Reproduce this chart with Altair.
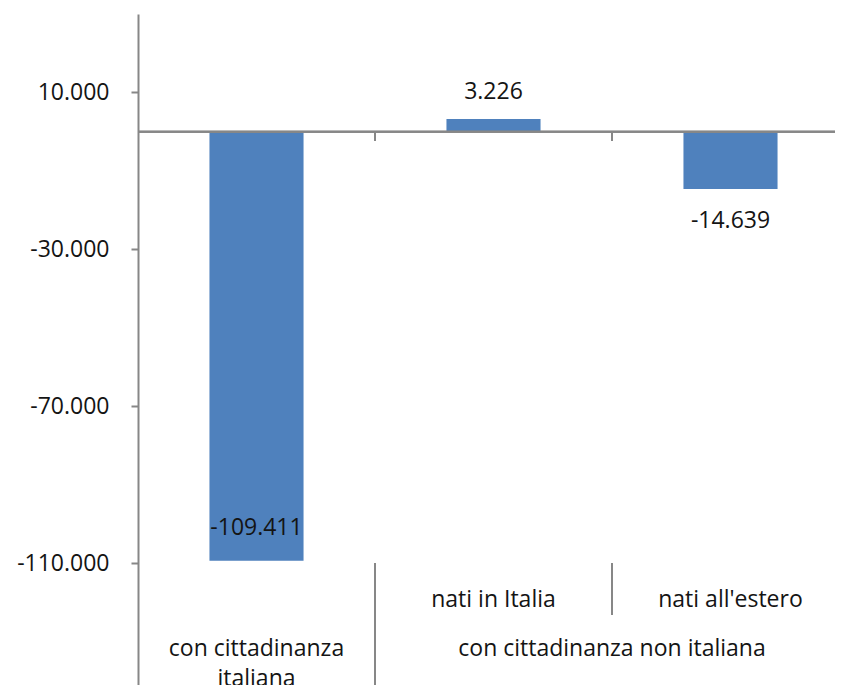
import altair as alt
import pandas as pd

# ---- data -----------------------------------------------------------------
categories = ["con cittadinanza italiana", "nati in Italia", "nati all'estero"]
values = [-109411, 3226, -14639]
level1_labels = ["", "nati in Italia", "nati all'estero"]
group_labels = ["con cittadinanza\nitaliana", "con cittadinanza non italiana"]
group_spans = [1, 2]
y_ticks = [10000, -30000, -70000, -110000]


def it_fmt(v):
    return f"{v:,}".replace(",", ".")


n = len(categories)
bars_df = pd.DataFrame({"cat": categories, "value": values,
                        "label": [it_fmt(v) for v in values],
                        "lvl1": level1_labels})

# group label anchors (center of each group in category units)
ends = list(pd.Series(group_spans).cumsum())
starts = [int(e - s) for e, s in zip(ends, group_spans)]
centers = [(s + e) / 2 for s, e in zip(starts, ends)]
group_df = pd.DataFrame({
    "anchor": [categories[min(int(c), n - 1)] for c in centers],
    "frac": [c - int(c) for c in centers],
    "text": group_labels,
})
group_bounds = [int(e) for e in ends[:-1]]
bound_df = pd.DataFrame({
    "cat": [categories[b] for b in range(1, n)],
    "kind": ["group" if b in group_bounds else "inner" for b in range(1, n)],
})

# ---- layout / style ---------------------------------------------------------
PLOT_W = 697          # visible plot width (page is 843 wide)
BAND_RANGE = 711      # the category axis runs on past the right edge
PLOT_H = 671
Y_DOMAIN = [-141100, 30000]
VALUE_MIN = y_ticks[-1]
FONT = "Open Sans"
FS = 23
AXIS_C = "#878787"
TXT_C = "#141414"
BAR_C = "#4F81BD"

yscale = alt.Scale(domain=Y_DOMAIN, nice=False, zero=False)
xscale = alt.Scale(domain=categories, range=[0, BAND_RANGE],
                   paddingInner=0, paddingOuter=0)


def xpos(field, band=0.5):
    return alt.X(f"{field}:N", sort=categories, scale=xscale, axis=None,
                 bandPosition=band)


y_axis = alt.Axis(values=y_ticks, title=None, grid=False,
                  labelExpr="replace(replace(datum.label, ',', '.'), '\u2212', '-')",
                  labelFont=FONT, labelFontSize=FS, labelColor=TXT_C,
                  labelPadding=22, tickSize=7, tickWidth=2, tickColor=AXIS_C,
                  domainColor=AXIS_C, domainWidth=2)

bars = alt.Chart(bars_df).mark_bar(
    color=BAR_C, width=alt.RelativeBandSize(0.397)).encode(
    x=alt.X("cat:N", sort=categories, scale=xscale, axis=None),
    y=alt.Y("value:Q", scale=yscale, axis=y_axis),
)

zero_line = alt.Chart(bars_df).mark_rule(color=AXIS_C, strokeWidth=2).encode(
    x=alt.value(0), x2=alt.value(BAND_RANGE), y=alt.datum(0)
)

zero_ticks = alt.Chart(bound_df).mark_rule(color=AXIS_C, strokeWidth=2).encode(
    x=xpos("cat", 0), y=alt.datum(0), y2=alt.datum(-2400)
)

full_div = alt.Chart(bound_df).transform_filter("datum.kind == 'group'").mark_rule(
    color=AXIS_C, strokeWidth=2).encode(
    x=xpos("cat", 0), y=alt.datum(VALUE_MIN), y2=alt.value(PLOT_H)
)
short_div = alt.Chart(bound_df).transform_filter("datum.kind == 'inner'").mark_rule(
    color=AXIS_C, strokeWidth=2).encode(
    x=xpos("cat", 0), y=alt.datum(VALUE_MIN), y2=alt.value(601)
)

txt = dict(font=FONT, fontSize=FS, color=TXT_C, align="center", baseline="middle")
ylab = alt.Y("value:Q")

lab_pos = alt.Chart(bars_df).transform_filter("datum.value >= 0").mark_text(
    dy=-27, **txt).encode(x=xpos("cat"), y=ylab, text="label:N")
lab_neg = alt.Chart(bars_df).transform_filter(
    f"datum.value < 0 && datum.value - 8500 >= {VALUE_MIN}").mark_text(
    dy=32, **txt).encode(x=xpos("cat"), y=ylab, text="label:N")
lab_in = alt.Chart(bars_df).transform_filter(
    f"datum.value < 0 && datum.value - 8500 < {VALUE_MIN}").mark_text(
    dy=-33, **txt).encode(x=xpos("cat"), y=ylab, text="label:N")

lvl1 = alt.Chart(bars_df).mark_text(**txt).encode(
    x=xpos("cat"), y=alt.value(586), text="lvl1:N")

grp_txt = dict(font=FONT, fontSize=FS, color=TXT_C, align="center", baseline="top",
               lineBreak="\n", lineHeight=30)
lvl2_mid = alt.Chart(group_df).transform_filter("datum.frac == 0.5").mark_text(
    **grp_txt).encode(x=xpos("anchor", 0.5), y=alt.value(624), text="text:N")
lvl2_edge = alt.Chart(group_df).transform_filter("datum.frac == 0").mark_text(
    **grp_txt).encode(x=xpos("anchor", 0), y=alt.value(624), text="text:N")

chart = alt.layer(
    bars, zero_line, zero_ticks, full_div, short_div,
    lab_pos, lab_neg, lab_in, lvl1, lvl2_mid, lvl2_edge
).properties(
    width=PLOT_W, height=PLOT_H,
    autosize=alt.AutoSizeParams(type="none"),
    padding={"left": 130, "top": 6, "right": 0, "bottom": 0},
).configure_view(stroke=None)

chart.save("out.html", embed_options={"renderer": "svg", "actions": False})
